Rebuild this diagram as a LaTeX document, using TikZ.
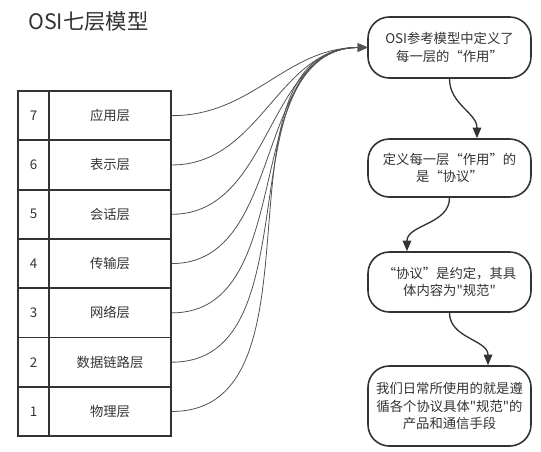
\documentclass[tikz,border=0pt]{standalone}
\usepackage{fontspec}
\setmainfont{Noto Sans CJK SC}
\usetikzlibrary{arrows.meta}
\definecolor{ink}{HTML}{333333}
\begin{document}
\begin{tikzpicture}[x=0.75pt,y=-0.75pt,
  cell/.style={draw=ink,line width=1.4pt,minimum height=36.975pt,inner sep=0pt,font=\fontsize{10}{12}\selectfont,text=ink},
  numcell/.style={cell,minimum width=23.25pt},
  namecell/.style={cell,minimum width=91.5pt},
  stepbox/.style={draw=ink,line width=1.2pt,rounded corners=16pt,minimum width=122.25pt,inner sep=2pt,align=center,font=\fontsize{10}{13}\selectfont,text=ink},
  link/.style={draw=ink!85,line width=0.6pt,-{Triangle[length=7pt,width=6pt]}},
  flow/.style={draw=ink,line width=1pt,-{Triangle[length=8pt,width=6.5pt]}}
]
\useasboundingbox (0,0) rectangle (541,451);
\node[font=\fontsize{16}{18}\selectfont,text=ink,anchor=west,inner sep=0pt] (title) at (28,21) {OSI七层模型};

\foreach \n/\t [count=\i from 0] in {7/应用层,6/表示层,5/会话层,4/传输层,3/网络层,2/数据链路层,1/物理层}{
  \node[numcell] (n\n) at (33.5,{115.65+49.3*\i}) {\n};
  \node[namecell] (l\n) at (110,{115.65+49.3*\i}) {\t};
}

\node[stepbox,minimum height=45.75pt] (b1) at (449.5,47.5) {OSI参考模型中定义了\\每一层的“作用”};
\node[stepbox,minimum height=43.5pt] (b2) at (449.5,168) {定义每一层“作用”的\\是“协议”};
\node[stepbox,minimum height=45pt] (b3) at (449.5,282) {“协议”是约定，其具\\体内容为\textquotedbl{}规范\textquotedbl{}};
\node[stepbox,minimum height=60pt] (b4) at (449.5,406) {我们日常所使用的就是遵\\循各个协议具体\textquotedbl{}规范\textquotedbl{}的\\产品和通信手段};

\foreach \n in {7,6,5,4,3,2,1}{
  \draw[link] (l\n.east) to[out=0,in=180] (b1.west);
}

\draw[flow] (b1.south) to[out=-90,in=90] ([xshift=20.6pt]b2.north);
\draw[flow] (b2.south) to[out=-90,in=90] ([xshift=-31.9pt]b3.north);
\draw[flow] (b3.south) to[out=-90,in=90] ([xshift=28.9pt]b4.north);
\end{tikzpicture}
\end{document}
